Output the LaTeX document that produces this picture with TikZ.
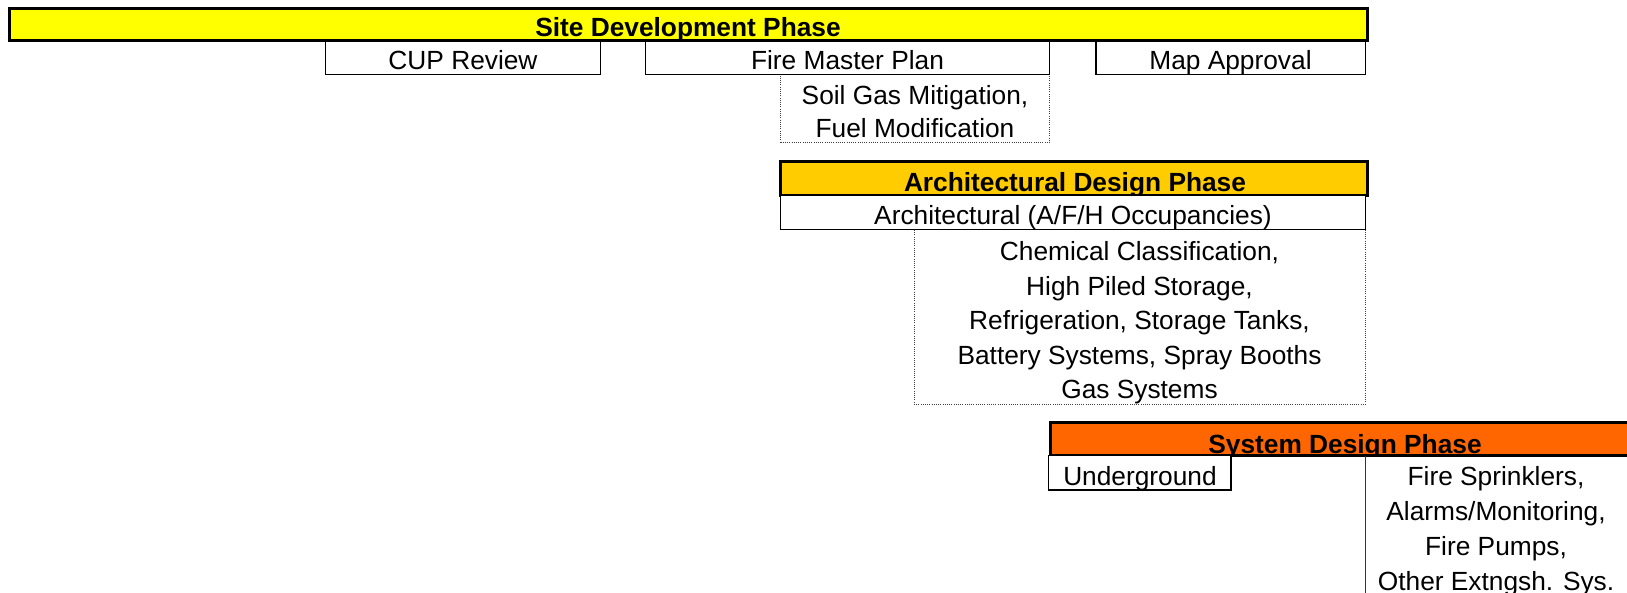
\documentclass[tikz,border=0pt]{standalone}
\usepackage{fontspec}
\setmainfont{Liberation Sans}
\definecolor{siteyellow}{HTML}{FFFF00}
\definecolor{archgold}{HTML}{FFCC00}
\definecolor{sysorange}{HTML}{FF6600}
\begin{document}
\begin{tikzpicture}[x=1pt,y=-1pt,
  every node/.style={font=\fontsize{26.3}{34}\selectfont, inner sep=0pt, outer sep=0pt},
  txt/.style={anchor=base},
  ttl/.style={anchor=base, font=\fontsize{26.3}{34}\selectfont\bfseries},
  area/.style={anchor=north west, minimum width=#1},
  barbox/.style={draw=black, line width=3pt},
  cellbox/.style={draw=black, line width=1.8pt, fill=white},
  dotbox/.style={draw=black!75, line width=1pt, dash pattern=on 1pt off 1.2pt},
]
\useasboundingbox (0,0) rectangle (1627,593);
\clip (0,0) rectangle (1627,593);

% dotted detail boxes
\node[dotbox, area=269, minimum height=68] (soil) at (780.5,74.5) {};
\node[dotbox, area=451.5, minimum height=174.5] (chem) at (914,229.5) {};

% Site development phase
\node[barbox, fill=siteyellow, area=1358, minimum height=32.5] (site) at (9,8.5) {};
\begin{scope}
  \clip (site.north west) rectangle (site.south east);
  \node[ttl] (sitet) at (688,36.7) {Site Development Phase};
\end{scope}
\node[cellbox, area=275, minimum height=33.5] (cup) at (325.5,41) {};
\node[cellbox, area=404, minimum height=33.5] (fmp) at (645.5,41) {};
\node[cellbox, area=269.5, minimum height=33.5] (map) at (1096,41) {};
\node[txt] (cupt) at (463,69.5) {CUP Review};
\node[txt] (fmpt) at (847.5,69.5) {Fire Master Plan};
\node[txt] (mapt) at (1230.5,69.5) {Map Approval};
\node[txt] (soil1) at (915,105) {Soil Gas Mitigation,};
\node[txt] (soil2) at (915,137.5) {Fuel Modification};

% Architectural design phase
\node[barbox, fill=archgold, area=586.5, minimum height=33.5] (arch) at (780.5,162) {};
\begin{scope}
  \clip (arch.north west) rectangle (arch.south east);
  \node[ttl] (archt) at (1075,191.7) {Architectural Design Phase};
\end{scope}
\node[cellbox, area=585, minimum height=34] (archbox) at (780.5,195.5) {};
\node[txt] (archboxt) at (1073,225) {Architectural (A/F/H Occupancies)};
\node[txt] (chem1) at (1139.5,261) {Chemical Classification,};
\node[txt] (chem2) at (1139.5,295.3) {High Piled Storage,};
\node[txt] (chem3) at (1139.5,329.8) {Refrigeration, Storage Tanks,};
\node[txt] (chem4) at (1139.5,364.3) {Battery Systems, Spray Booths};
\node[txt] (chem5) at (1139.5,398.6) {Gas Systems};

% System design phase
\node[barbox, fill=sysorange, area=600, minimum height=33.5] (sys) at (1050,422) {};
\begin{scope}
  \clip (sys.north west) rectangle (sys.south east);
  \node[ttl] (syst) at (1345,453.3) {System Design Phase};
\end{scope}
\node[cellbox, area=182.5, minimum height=34.5] (ug) at (1048.5,455.5) {};
\node[txt] (ugt) at (1140,485) {Underground};
\node[area=280, minimum height=150] (fsp) at (1365.5,455.5) {};
\draw[line width=1.5pt, black!80] (fsp.north west) -- (fsp.south west);
\node[txt] (fsp1) at (1496,485) {Fire Sprinklers,};
\node[txt] (fsp2) at (1496,520) {Alarms/Monitoring,};
\node[txt] (fsp3) at (1496,555) {Fire Pumps,};
\node[txt] (fsp4) at (1496,590) {Other Extngsh. Sys.};
\end{tikzpicture}
\end{document}
